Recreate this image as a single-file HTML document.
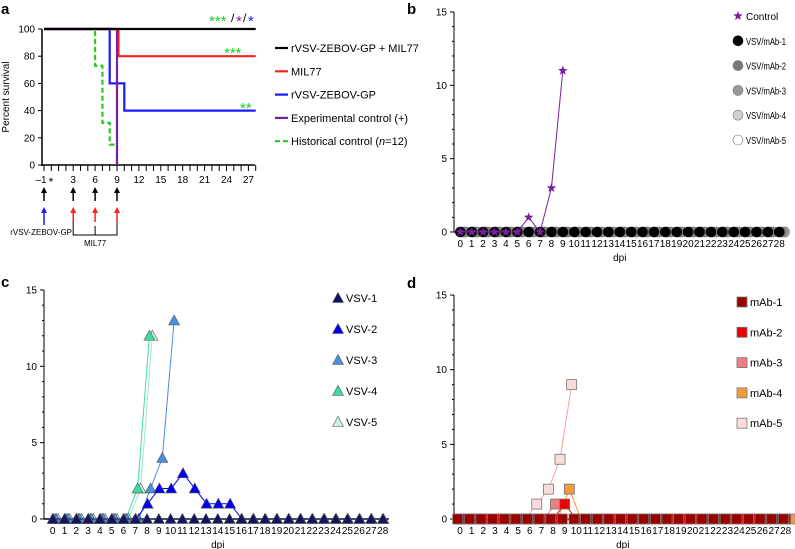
<!DOCTYPE html>
<html><head><meta charset="utf-8"><style>
body{margin:0;background:#fff}
svg{display:block;font-family:"Liberation Sans",Arial,sans-serif}
</style></head><body>
<svg id="fig" width="795" height="549" viewBox="0 0 795 549"></svg>
<script>
// ---- Panel a data ----
const aDaysBlack=[-1,28], aValsBlack=[100,100];
const aDaysRed=[-1,9.2,9.2,28], aValsRed=[100,100,80,80];
const aDaysBlue=[-1,8,8,10,10,28], aValsBlue=[100,100,60,60,40,40];
const aDaysPurple=[-1,9,9], aValsPurple=[100,100,0];
const aDaysGreen=[-0.3,6,6,7,7,8,8,9,9], aValsGreen=[100,100,73,73,31,31,15,15,0];
const aTickLabels=[-1,3,6,9,12,15,18,21,24,27];
const aLegend=["rVSV-ZEBOV-GP + MIL77","MIL77","rVSV-ZEBOV-GP","Experimental control (+)","Historical control (n=12)"];
// ---- Panel b data ----
const bControl=[0,0,0,0,0,0,1,0,3,11];
const bLegend=["Control","VSV/mAb-1","VSV/mAb-2","VSV/mAb-3","VSV/mAb-4","VSV/mAb-5"];
// ---- Panel c data ----
const cVSV1=[0,0,0,0,0,0,0,0,0,0,0,0,0,0,0,0,0,0,0,0,0,0,0,0,0,0,0,0,0];
const cVSV2=[0,0,0,0,0,0,0,0,1,2,2,3,2,1,1,1,0,0,0,0,0,0,0,0,0,0,0,0,0];
const cVSV3=[0,0,0,0,0,0,0,0,2,4,13];
const cVSV4=[0,0,0,0,0,0,0,2,12];
const cVSV5=[0,0,0,0,0,0,0,2,12];
// ---- Panel d data ----
const dMAb1=[0,0,0,0,0,0,0,0,0,0,0,0,0,0,0,0,0,0,0,0,0,0,0,0,0,0,0,0,0];
const dMAb2=[0,0,0,0,0,0,0,0,0,1,0,0,0,0,0,0,0,0,0,0,0,0,0,0,0,0,0,0,0];
const dMAb3=[0,0,0,0,0,0,0,0,1];
const dMAb4=[0,0,0,0,0,0,0,0,0,2,0,0,0,0,0,0,0,0,0,0,0,0,0,0,0,0,0,0,0];
const dMAb5=[0,0,0,0,0,0,1,2,4,9];

const svg=document.getElementById('fig');
const NS='http://www.w3.org/2000/svg';
function el(tag,attrs,parent,text){const e=document.createElementNS(NS,tag);for(const k in attrs)e.setAttribute(k,attrs[k]);if(text!==undefined)e.textContent=text;(parent||svg).appendChild(e);return e;}
function grp(name){const g=el('g',{});return g;}

// ================= Panel a =================
(function(){
 const g=grp('panel-a');
 const x=d=>117+(d-9)*7.3, y=v=>165-v*1.36;
 let t=el('text',{x:1,y:14,'font-size':15,'font-weight':'bold'},g,'a');
 
 el('line',{x1:42,y1:29,x2:42,y2:166,stroke:'#000','stroke-width':1.5},g);
 el('line',{x1:42,y1:165,x2:255,y2:165,stroke:'#000','stroke-width':1.5},g);
 [0,20,40,60,80,100].forEach(v=>{el('line',{x1:38,x2:42,y1:y(v),y2:y(v),stroke:'#000'},g);
  el('text',{x:35,y:y(v)+3.5,'font-size':10,'text-anchor':'end'},g,v);});
 for(let d=-1;d<=28;d++){el('line',{x1:x(d),x2:x(d),y1:165,y2:171,stroke:'#000'},g);}
 aTickLabels.forEach(d=>el('text',{x:d<0?x(d)-3:x(d),y:183,'font-size':10,'text-anchor':'middle'},g,d<0?'\u2013'+(-d):d));
 el('text',{x:51,y:186,'font-size':12,'text-anchor':'middle'},g,'*');
 t=el('text',{x:0,y:0,'font-size':10,'text-anchor':'middle',transform:'translate(9,97) rotate(-90)'},g,'Percent survival');
 
 function path(xs,vs,col,extra){let d=xs.map((v,i)=>(i?'L':'M')+x(v)+','+y(vs[i])).join('');
   return el('path',Object.assign({d:d,fill:'none',stroke:col,'stroke-width':2.2},extra||{}),g);}
 path(aDaysGreen,aValsGreen,'#22cc22',{'stroke-dasharray':'5,3'});
 path(aDaysBlue,aValsBlue,'#1a1aff');
 path(aDaysRed,aValsRed,'#ff2020');
 path(aDaysPurple,aValsPurple,'#7a1fa2');
 path(aDaysBlack,aValsBlack,'#000');
 // significance
 el('text',{x:209,y:26,'font-size':15,fill:'#22cc22'},g,'***');
 el('text',{x:231,y:22,'font-size':12},g,'/');
 el('text',{x:236,y:26,'font-size':15,fill:'#7a1fa2'},g,'*');
 el('text',{x:243,y:22,'font-size':12},g,'/');
 el('text',{x:248,y:26,'font-size':15,fill:'#1a1aff'},g,'*');
 el('text',{x:224,y:58,'font-size':15,fill:'#22cc22'},g,'***');
 el('text',{x:240,y:113,'font-size':15,fill:'#22cc22'},g,'**');
 // legend
 const cols=['#000','#ff2020','#1a1aff','#7a1fa2','#22cc22'];
 aLegend.forEach((s,i)=>{const yy=48+i*23.3;const lg=el('g',{},g);
  
  el('line',Object.assign({x1:275,x2:288,y1:yy,y2:yy,stroke:cols[i],'stroke-width':2.2},i==4?{'stroke-dasharray':'5,3'}:{}),lg);
  if(i==4){const tt=el('text',{x:291,y:yy+4,'font-size':11},lg);tt.innerHTML='Historical control (<tspan font-style="italic">n</tspan>=12)';}
  else el('text',{x:291,y:yy+4,'font-size':11},lg,s);});
 // arrows
 const arrowDays=[-1,3,6,9], arrowCol=['#1a1aff','#ff2020','#ff2020','#ff2020'];
 arrowDays.forEach((d,i)=>{const ax=x(d);
  el('line',{x1:ax,x2:ax,y1:191,y2:201,stroke:'#000','stroke-width':1.5},g);
  el('path',{d:`M${ax-3},${193}L${ax},${187}L${ax+3},${193}Z`,fill:'#000'},g);
  el('line',{x1:ax,x2:ax,y1:211,y2:i?222:225,stroke:arrowCol[i],'stroke-width':1.5},g);
  el('path',{d:`M${ax-3},${213}L${ax},${207}L${ax+3},${213}Z`,fill:arrowCol[i]},g);});
 el('text',{x:72,y:235,'font-size':8,'text-anchor':'end'},g,'rVSV-ZEBOV-GP');
 el('path',{d:`M${x(3)},222V235H${x(9)}V222M${x(6)},226V235`,fill:'none',stroke:'#000'},g);
 el('text',{x:x(6),y:246,'font-size':8,'text-anchor':'middle'},g,'MIL77');
})();

// ========== generic dot-plot panel ==========
function dotPanel(o){
 const g=grp('panel-'+o.id);
 const x=d=>o.x0+d*o.dx, y=v=>o.y0-v*o.dy;
 let t=el('text',{x:o.lx,y:o.ly,'font-size':15,'font-weight':'bold'},g,o.id);
 
 el('line',{x1:o.ax,y1:y(15),x2:o.ax,y2:o.y0,stroke:'#000','stroke-width':1},g);
 el('line',{x1:o.ax,y1:o.y0,x2:x(28)+6,y2:o.y0,stroke:'#000','stroke-width':1.5},g);
 for(let v=0;v<=15;v++){el('line',{x1:o.ax-(v%5?2:4),x2:o.ax,y1:y(v),y2:y(v),stroke:'#000'},g);}
 [0,5,10,15].forEach(v=>el('text',{x:o.ax-7,y:y(v)+3.5,'font-size':10,'text-anchor':'end'},g,v));
 for(let d=0;d<=28;d++)el('text',{x:x(d),y:o.y0+15,'font-size':10,'text-anchor':'middle'},g,d);
 t=el('text',{x:x(14),y:o.y0+29,'font-size':10,'text-anchor':'middle'},g,'dpi');
 
 o.series.forEach((s,si)=>{const sg=el('g',{},g);
  
  const pts=s.data.map((v,i)=>[x(i+s.off),y(v)]);
  el('polyline',{points:pts.map(p=>p.join(',')).join(' '),fill:'none',stroke:s.line,'stroke-width':1},sg);
  pts.forEach(p=>o.mark(sg,p[0],p[1],s));
 });
 o.legend.forEach((s,i)=>{const yy=o.legY+i*o.legDy;const lg=el('g',{},g);
  
  o.mark(lg,o.legX,yy,s);el('text',{x:o.legX+8,y:yy+4,'font-size':11},lg,s.label);});
}
function circ(p,cx,cy,s){el('circle',{cx:cx,cy:cy,r:5,fill:s.fill,stroke:s.stroke||'#777','stroke-width':0.6},p);}
function star(p,cx,cy,s){const r=5,ri=2.1;let d='';for(let k=0;k<10;k++){const a=-Math.PI/2+k*Math.PI/5,rr=k%2?ri:r;d+=(k?'L':'M')+(cx+rr*Math.cos(a))+','+(cy+rr*Math.sin(a));}
 el('path',{d:d+'Z',fill:s.fill},p);}
function tri(p,cx,cy,s){el('path',{d:`M${cx-5.5},${cy+4.5}L${cx},${cy-5.5}L${cx+5.5},${cy+4.5}Z`,fill:s.fill,stroke:s.stroke||'#555','stroke-width':0.6},p);}
function sq(p,cx,cy,s){el('rect',{x:cx-5,y:cy-5,width:10,height:10,fill:s.fill,stroke:s.stroke||'#777','stroke-width':0.8},p);}

// Panel b
const zeros29=new Array(29).fill(0);
const bSeries=[
 {name:'vsv-mab-5',label:'VSV/mAb-5',data:zeros29,off:0.5,fill:'#fff',line:'#bbb'},
 {name:'vsv-mab-4',label:'VSV/mAb-4',data:zeros29,off:0.4,fill:'#d0d0d0',line:'#bbb'},
 {name:'vsv-mab-3',label:'VSV/mAb-3',data:zeros29,off:0.3,fill:'#999',line:'#999'},
 {name:'vsv-mab-2',label:'VSV/mAb-2',data:zeros29,off:0.15,fill:'#777',line:'#777'},
 {name:'vsv-mab-1',label:'VSV/mAb-1',data:zeros29,off:0,fill:'#000',line:'#000',stroke:'#000'},
];
const bCtl={name:'control',label:'Control',data:bControl,off:0,fill:'#7a1fa2',line:'#7a1fa2'};
(function(){
 const o={id:'b',lx:407,ly:14,ax:454,x0:460.3,dx:11.39,y0:232,dy:14.67,legX:738,legY:16,legDy:24.8};
 const g=grp('panel-b');
 const x=d=>o.x0+d*o.dx, y=v=>o.y0-v*o.dy;
 let t=el('text',{x:o.lx,y:o.ly,'font-size':15,'font-weight':'bold'},g,'b');
 
 el('line',{x1:o.ax,y1:y(15),x2:o.ax,y2:o.y0,stroke:'#000'},g);
 el('line',{x1:o.ax,y1:o.y0,x2:x(28)+8,y2:o.y0,stroke:'#000','stroke-width':1.5},g);
 for(let v=0;v<=15;v++)el('line',{x1:o.ax-(v%5?2:4),x2:o.ax,y1:y(v),y2:y(v),stroke:'#000'},g);
 [0,5,10,15].forEach(v=>el('text',{x:o.ax-7,y:y(v)+3.5,'font-size':10,'text-anchor':'end'},g,v));
 for(let d=0;d<=28;d++)el('text',{x:x(d),y:o.y0+15,'font-size':10,'text-anchor':'middle'},g,d);
 t=el('text',{x:x(14),y:o.y0+29,'font-size':10,'text-anchor':'middle'},g,'dpi');
 
 bSeries.forEach(s=>{const sg=el('g',{},g);
  s.data.forEach((v,i)=>circ(sg,x(i+s.off),y(v),s));});
 const cg=el('g',{},g);
 el('polyline',{points:bCtl.data.map((v,i)=>x(i)+','+y(v)).join(' '),fill:'none',stroke:bCtl.line,'stroke-width':1},cg);
 bCtl.data.forEach((v,i)=>star(cg,x(i),y(v),bCtl));
 const leg=[bCtl].concat(bSeries.slice().reverse());
 leg.forEach((s,i)=>{const yy=o.legY+i*o.legDy;const lg=el('g',{},g);
  
  (i?circ:star)(lg,o.legX,yy,s);
  const tx=el('text',{x:o.legX+8,y:yy+4,'font-size':10},lg,s.label);
  if(i){tx.setAttribute('textLength',40);tx.setAttribute('lengthAdjust','spacingAndGlyphs');}});
})();

// Panel c
const cSeries=[
 {name:'vsv-5',label:'VSV-5',data:cVSV5,off:0.45,fill:'#c8f2e2',line:'#9ee6cc'},
 {name:'vsv-4',label:'VSV-4',data:cVSV4,off:0.2,fill:'#3ddc9c',line:'#3ddc9c'},
 {name:'vsv-3',label:'VSV-3',data:cVSV3,off:0.3,fill:'#4a8fe0',line:'#4a8fe0'},
 {name:'vsv-2',label:'VSV-2',data:cVSV2,off:0.05,fill:'#0000ee',line:'#0000ee'},
 {name:'vsv-1',label:'VSV-1',data:cVSV1,off:0,fill:'#14145e',line:'#14145e'},
];
dotPanel({id:'c',lx:1,ly:287,ax:44,x0:52.7,dx:11.79,y0:519,dy:15.27,series:cSeries,legend:cSeries.slice().reverse(),mark:tri,legX:338,legY:298,legDy:31});

// Panel d
const dSeries=[
 {name:'mab-5',label:'mAb-5',data:dMAb5,off:0.6,fill:'#fbdcdc',line:'#f4a0a0'},
 {name:'mab-4',label:'mAb-4',data:dMAb4,off:0.4,fill:'#f59a3a',line:'#f59a3a'},
 {name:'mab-3',label:'mAb-3',data:dMAb3,off:0.2,fill:'#f08080',line:'#f08080'},
 {name:'mab-2',label:'mAb-2',data:dMAb2,off:0,fill:'#ee0000',line:'#ee0000'},
 {name:'mab-1',label:'mAb-1',data:dMAb1,off:-0.2,fill:'#990000',line:'#990000'},
];
dotPanel({id:'d',lx:407,ly:288,ax:454,x0:460,dx:11.63,y0:519,dy:14.93,series:dSeries,legend:dSeries.slice().reverse(),mark:sq,legX:742,legY:302,legDy:30.3});
</script>
</body></html>
